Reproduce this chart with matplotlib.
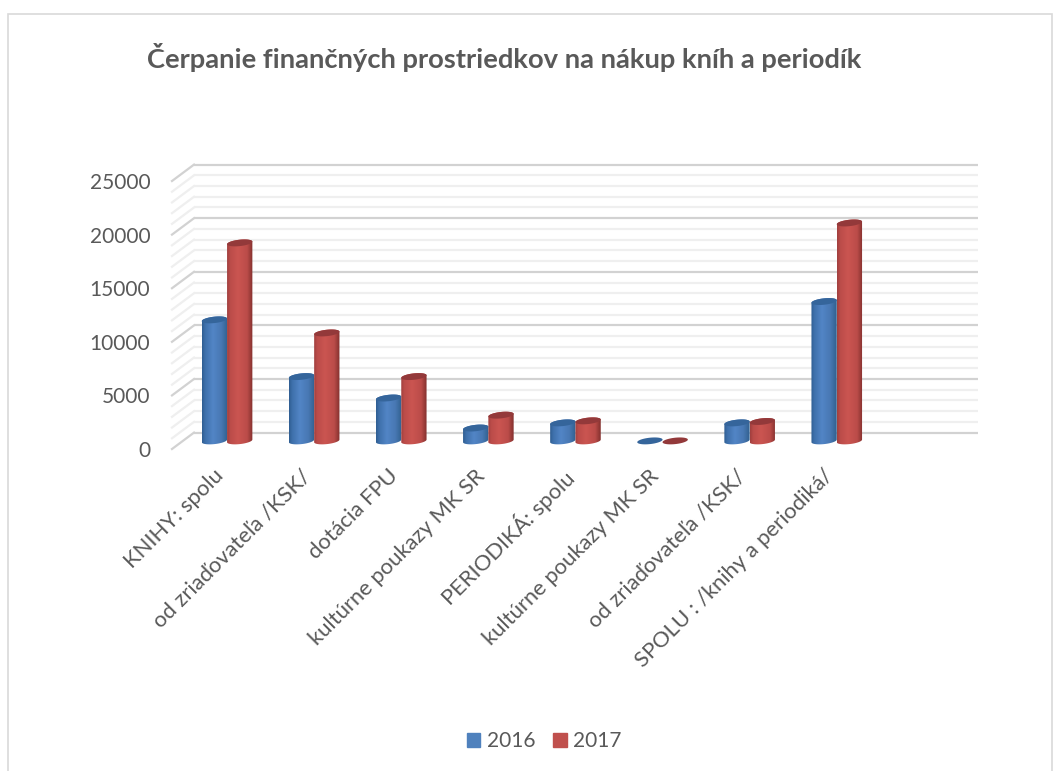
import matplotlib
matplotlib.use('Agg')
import matplotlib.pyplot as plt
from matplotlib.patches import Patch, Rectangle
from matplotlib.path import Path
from matplotlib.transforms import Affine2D
import numpy as np

plt.rcParams.update({'font.family':['Lato','DejaVu Sans'],'font.size':15,'figure.dpi':100})

# values; the ninth slot of the axis is empty in the original
categories=['KNIHY: spolu','od zriaďovateľa /KSK/','dotácia FPU','kultúrne poukazy MK SR',
            'PERIODIKÁ: spolu','kultúrne poukazy MK SR','od zriaďovateľa /KSK/','SPOLU : /knihy a periodiká/','']
v2016=[11290,6000,4000,1200,1680,0,1680,13000]
v2017=[18470,10070,6000,2400,1870,0,1810,20330]
years=['2016','2017']
yticks=[0,5000,10000,15000,20000,25000]
title='Čerpanie finančných prostriedkov na nákup kníh a periodík'

W,H=1059,771
TXT='#595959'
SLOT=87.1; PXV=268/25000.   # px per category, px per value
BW=25.3/SLOT

def cylinder(ax,xl,val,stops,cap,tr):
    # gradient body clipped to a tilted cylinder outline, then the top cap
    a=BW/2; c=xl+a
    b=3.2/PXV; k=1.3/PXV
    t=np.linspace(0,2*np.pi,80)
    ex=c+a*np.cos(t); ey=b*np.sin(t)+k*np.cos(t)
    if val>0:
        low=t>=np.pi; up=t<=np.pi
        px=np.r_[ex[low],ex[up]]
        py=np.r_[ey[low],ey[up]+val]
        path=Path(np.c_[px,py])
        g=np.linspace(0,1,64)
        rgb=np.array([np.interp(g,[s[0] for s in stops],[s[1][i] for s in stops]) for i in range(3)]).T
        im=ax.imshow(rgb[None,:,:],extent=(xl,xl+BW,-b*2,val+b*2),aspect='auto',origin='lower',
                     interpolation='bilinear',zorder=3,transform=tr)
        im.set_clip_path(path,tr)
    ax.fill(ex,ey+val,color=cap,lw=0,zorder=3.1,transform=tr,clip_on=False)

def rgb(h):
    return matplotlib.colors.to_rgb(h)

BLUE=[(0,rgb('#2f5d92')),(0.12,rgb('#3e70ab')),(0.42,rgb('#5285c6')),(0.75,rgb('#4878b3')),(1,rgb('#31608f'))]
RED=[(0,rgb('#a13f3e')),(0.12,rgb('#bb4c49')),(0.42,rgb('#cb5551')),(0.78,rgb('#bb4c49')),(1,rgb('#82302e'))]

fig=plt.figure(figsize=(W/100,H/100),dpi=100)
# front plane of the chart box, depth drawn through pixel offsets
ax=fig.add_axes([172/W,1-449/H,9*SLOT/W,268/H])
ax.set_xlim(0,9); ax.set_ylim(0,25000)
ax.patch.set_alpha(0)
for s in ax.spines.values(): s.set_visible(False)
wall=ax.transData+Affine2D().translate(22,16.4)
mid=ax.transData+Affine2D().translate(11.5,8.1)

# back wall grid and the slanted floor/side lines
for y in range(0,25001,1000):
    major=y%5000==0
    col='#d2d2d2' if major else '#efefef'
    ax.plot([0,9],[y,y],color=col,lw=1.6,transform=wall,clip_on=False,zorder=1,solid_capstyle='butt')
    x0,y0=ax.transData.transform((0,y))
    ax.plot([x0,x0+22],[y0,y0+16.4],color=col,lw=1.6,transform=None,clip_on=False,zorder=1)

for i in range(len(v2016)):
    x=i+0.5-BW
    cylinder(ax,x,v2016[i],BLUE,'#35659b',mid)
    cylinder(ax,x+BW,v2017[i],RED,'#93393a',mid)
ax.set_xlim(0,9); ax.set_ylim(0,25000)

ax.set_yticks(yticks)
ax.set_xticks(np.arange(9)+0.5)
ax.set_xticklabels(categories,rotation=45,ha='right',rotation_mode='anchor',fontsize=15.8,color=TXT)
ax.tick_params(axis='both',length=0,colors=TXT)
ax.tick_params(axis='y',pad=15.7,labelsize=15)
ax.tick_params(axis='x',pad=12)
for lab in ax.get_xticklabels():
    lab.set_transform(lab.get_transform()+Affine2D().translate(-2,0))

fig.text(147/W,1-58/H,title,fontsize=19.7,fontweight='bold',color=TXT,ha='left',va='center')

hs=[Patch(color='#4f81bd'),Patch(color='#c0504d')]
fig.legend(hs,years,loc='center',bbox_to_anchor=(544/W,1-741/H),ncol=2,frameon=False,fontsize=15,
           labelcolor=TXT,handlelength=0.67,handleheight=0.67,handletextpad=0.29,columnspacing=0.86)

fig.add_artist(Rectangle((8/W,-0.05),1044/W,1.05-14.5/H,fill=False,ec='#d9d9d9',lw=1.2,transform=fig.transFigure))
fig.savefig('out.png',dpi=100,facecolor='white')
